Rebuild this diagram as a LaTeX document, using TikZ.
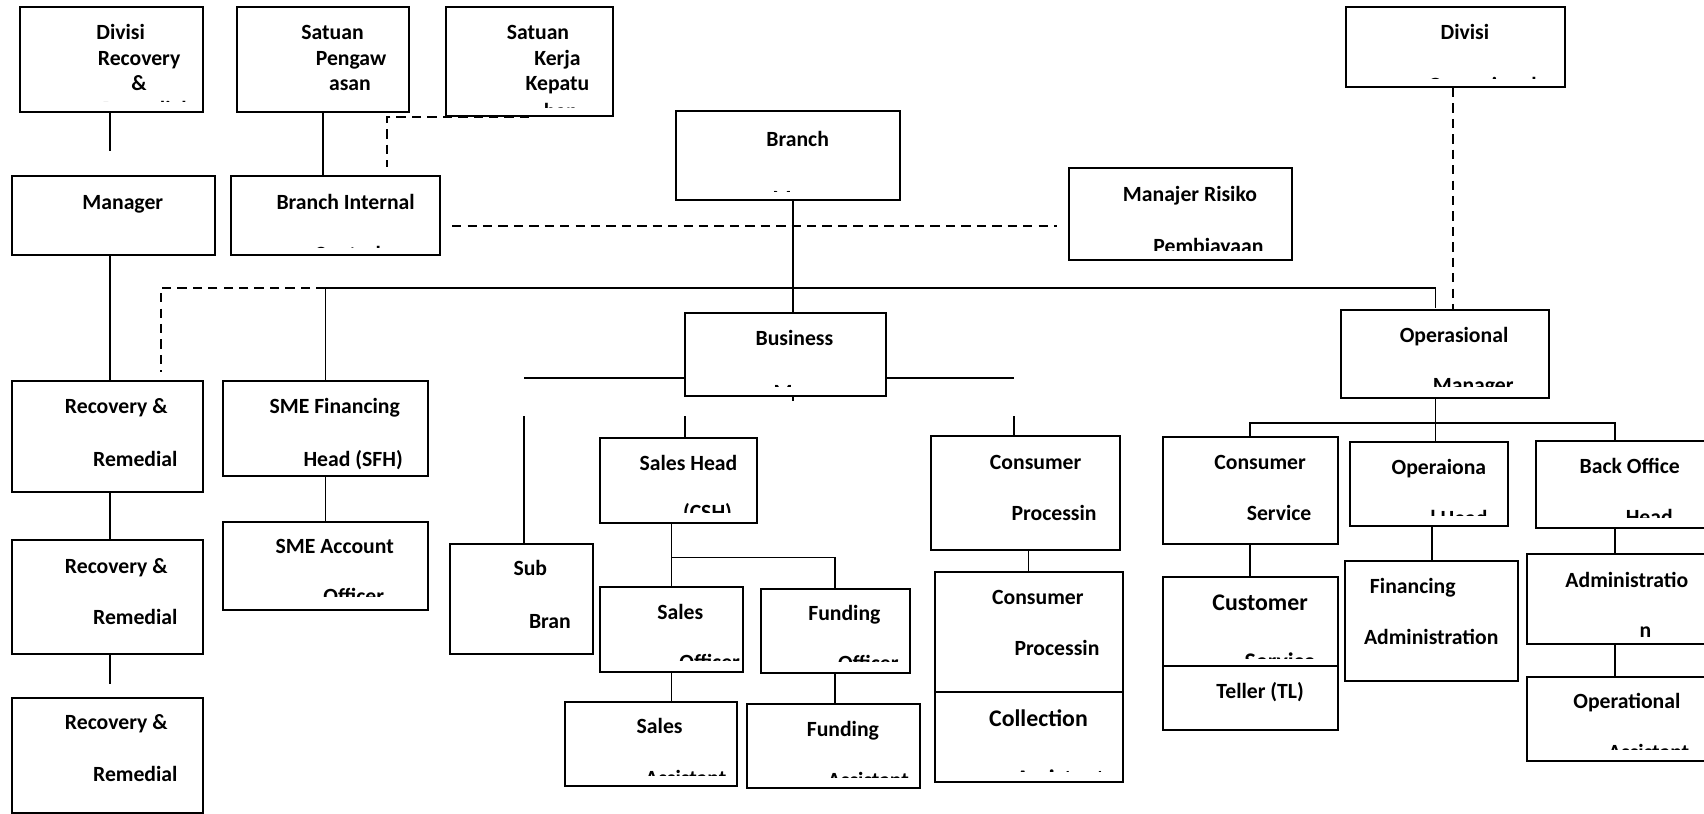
\documentclass[tikz,border=0pt]{standalone}
\usepackage{fontspec}
\setmainfont{Carlito}
\usetikzlibrary{fit}

\tikzset{
	unit/.style={draw, line width=0.46mm, inner sep=0pt, fit={#1}},
	lbl/.style={font=\fontsize{14.2}{17}\selectfont\bfseries, inner sep=0pt, anchor=mid, yshift=-1mm},
	biglbl/.style={lbl, font=\fontsize{15.6}{19}\selectfont\bfseries},
	link/.style={line width=0.4mm},
	dashlink/.style={line width=0.55mm, dash pattern=on 2.15mm off 1.4mm}
}

\begin{document}
\begin{tikzpicture}[x=0.25mm, y=-0.25mm]
			\clip (0,0) rectangle (1568,749);
			\fill[white] (0,0) rectangle (1568,749);

			% top row
			\node[unit={(18,6) (187,103)}] (dr) {};
			\node[lbl] (dr-1) at (111,29) {Divisi};
			\node[lbl] (dr-2) at (128,53) {Recovery};
			\node[lbl] (dr-3) at (128,76) {\&};
			\begin{scope}
				\clip (18,6) rectangle (187,93);
				\node[lbl] (dr-4) at (133,99.5) {Remedial};
			\end{scope}

			\node[unit={(218,6) (376,103)}] (sp) {};
			\node[lbl] (sp-1) at (306,29) {Satuan};
			\node[lbl] (sp-2) at (323,53) {Pengaw};
			\node[lbl] (sp-3) at (322,76) {asan};

			\node[unit={(410,6) (564,107)}] (skk) {};
			\node[lbl] (skk-1) at (495,29) {Satuan};
			\node[lbl] (skk-2) at (513,53) {Kerja};
			\node[lbl] (skk-3) at (513,76) {Kepatu};
			\begin{scope}
				\clip (410,6) rectangle (564,99);
				\node[lbl] (skk-4) at (516,102) {han};
			\end{scope}

			\node[unit={(1239,6) (1440,80)}] (do) {};
			\node[lbl] (do-1) at (1348,29) {Divisi};
			\begin{scope}
				\clip (1239,6) rectangle (1440,72);
				\node[lbl] (do-2) at (1364,78) {Operasional};
			\end{scope}

			\node[unit={(11,162) (198,235)}] (mgr) {};
			\node[lbl] (mgr-1) at (113,185) {Manager};

			\node[unit={(213,162) (405,235)}] (bi) {};
			\node[lbl] (bi-1) at (318,185) {Branch Internal};
			\begin{scope}
				\clip (213,162) rectangle (405,228);
				\node[lbl] (bi-2) at (320,233) {Control};
			\end{scope}

			\node[unit={(622,102) (828,184)}] (br) {};
			\node[lbl] (br-1) at (734,127) {Branch};
			\begin{scope}
				\clip (622,102) rectangle (828,176);
				\node[lbl] (br-2) at (748,182) {Manager};
			\end{scope}

			\node[unit={(984,155) (1189,239)}] (mr) {};
			\node[lbl] (mr-1) at (1095,178) {Manajer Risiko};
			\begin{scope}
				\clip (984,155) rectangle (1189,230.5);
				\node[lbl] (mr-2) at (1112,225.6) {Pembiayaan};
			\end{scope}

			% left columns
			\node[unit={(11,351) (187,453)}] (rr1) {};
			\node[lbl] (rr1-1) at (107,373) {Recovery \&};
			\node[lbl] (rr1-2) at (124.5,421.6) {Remedial};
			\node[unit={(11,497) (187,602)}] (rr2) {};
			\node[lbl] (rr2-1) at (107,520) {Recovery \&};
			\node[lbl] (rr2-2) at (124.5,567) {Remedial};
			\node[unit={(11,642) (187,748)}] (rr3) {};
			\node[lbl] (rr3-1) at (107,664) {Recovery \&};
			\node[lbl] (rr3-2) at (124.5,712) {Remedial};

			\node[unit={(205,351) (394,438)}] (sfh) {};
			\node[lbl] (sfh-1) at (308,373) {SME Financing};
			\node[lbl] (sfh-2) at (325,421.6) {Head (SFH)};
			\node[unit={(205,480) (394,561)}] (sao) {};
			\node[lbl] (sao-1) at (308,502) {SME Account};
			\begin{scope}
				\clip (205,480) rectangle (394,549);
				\node[lbl] (sao-2) at (325.5,547.6) {Officer};
			\end{scope}

			% business side
			\node[unit={(630,288) (815,364)}] (bm) {};
			\node[lbl] (bm-1) at (731,311) {Business};
			\begin{scope}
				\clip (630,288) rectangle (815,356);
				\node[lbl] (bm-2) at (749,360) {Manager};
			\end{scope}

			\node[unit={(414,501) (546,602)}] (sb) {};
			\node[lbl] (sb-1) at (488,522.5) {Sub};
			\node[lbl] (sb-2) at (506,571) {Bran};

			\node[unit={(552,403) (697,481)}] (sh) {};
			\node[lbl] (sh-1) at (633.5,425.7) {Sales Head};
			\begin{scope}
				\clip (552,403) rectangle (697,472);
				\node[lbl] (sh-2) at (651,471) {(CSH)};
			\end{scope}

			\node[unit={(552,540) (684,618)}] (so) {};
			\node[lbl] (so-1) at (626,562.6) {Sales};
			\begin{scope}
				\clip (552,540) rectangle (684,607.5);
				\node[lbl] (so-2) at (653,608.5) {Officer};
			\end{scope}

			\node[unit={(700,542) (837,619)}] (fo) {};
			\node[lbl] (fo-1) at (777,564) {Funding};
			\begin{scope}
				\clip (700,542) rectangle (837,609);
				\node[lbl] (fo-2) at (799,609.5) {Officer};
			\end{scope}

			\node[unit={(520,646) (678,723)}] (sa) {};
			\node[lbl] (sa-1) at (607,668) {Sales};
			\begin{scope}
				\clip (520,646) rectangle (678,713.6);
				\node[lbl] (sa-2) at (631,715.6) {Assistant};
			\end{scope}

			\node[unit={(687,648) (847,725)}] (fa) {};
			\node[lbl] (fa-1) at (775.6,670) {Funding};
			\begin{scope}
				\clip (687,648) rectangle (847,715);
				\node[lbl] (fa-2) at (799,717) {Assistant};
			\end{scope}

			\node[unit={(857,401) (1031,506)}] (cph) {};
			\node[lbl] (cph-1) at (953,424.4) {Consumer};
			\node[lbl] (cph-2) at (970,471.4) {Processin};
			\node[unit={(860,526) (1033,637)}] (cps) {};
			\node[lbl] (cps-1) at (955,548.6) {Consumer};
			\node[lbl] (cps-2) at (972.6,596) {Processin};
			\node[unit={(860,637) (1033,720)}] (col) {};
			\node[biglbl] (col-1) at (955.6,660.7) {Collection};
			\begin{scope}
				\clip (860,637) rectangle (1033,710);
				\node[biglbl] (col-2) at (975.5,716) {Assistant};
			\end{scope}

			% operational side
			\node[unit={(1234,285) (1425,366)}] (om) {};
			\node[lbl] (om-1) at (1338,307.7) {Operasional};
			\begin{scope}
				\clip (1234,285) rectangle (1425,356);
				\node[lbl] (om-2) at (1355.6,354) {Manager};
			\end{scope}

			\node[unit={(1070,402) (1231,501)}] (cs) {};
			\node[lbl] (cs-1) at (1159.5,424.4) {Consumer};
			\node[lbl] (cs-2) at (1177,471.4) {Service};
			\node[unit={(1070,531) (1231,613)}] (cus) {};
			\node[biglbl] (cus-1) at (1159.5,554.7) {Customer};
			\begin{scope}
				\clip (1070,531) rectangle (1231,605.5);
				\node[biglbl] (cus-2) at (1178,608.5) {Service};
			\end{scope}
			\node[unit={(1070,613) (1231,672)}] (tl) {};
			\node[lbl] (tl-1) at (1159.6,635.6) {Teller (TL)};

			\node[unit={(1242,407) (1388,484)}] (oh) {};
			\node[lbl] (oh-1) at (1324,429.5) {Operaiona};
			\begin{scope}
				\clip (1242,407) rectangle (1388,474);
				\node[lbl] (oh-2) at (1342.5,476.4) {l Head};
			\end{scope}
			\node[unit={(1238,516) (1397,627)}] (fad) {};
			\node[lbl] (fad-1) at (1300,538.6) {Financing};
			\node[lbl] (fad-2) at (1317,585.6) {Administration};

			\node[unit={(1413,406) (1580,486)}] (boh) {};
			\node[lbl] (boh-1) at (1499.7,428.6) {Back Office};
			\begin{scope}
				\clip (1413,406) rectangle (1580,476.5);
				\node[lbl] (boh-2) at (1517.6,475.5) {Head};
			\end{scope}
			\node[unit={(1405,510) (1580,593)}] (adm) {};
			\node[lbl] (adm-1) at (1497,533.5) {Administratio};
			\node[lbl] (adm-2) at (1514,579.5) {n};
			\node[unit={(1405,623) (1580,700)}] (oa) {};
			\node[lbl] (oa-1) at (1497,644.7) {Operational};
			\begin{scope}
				\clip (1405,623) rectangle (1580,690);
				\node[lbl] (oa-2) at (1517,691.6) {Assistant};
			\end{scope}

			% junctions and free ends
			\coordinate (colr) at (101,0);
			\coordinate (drend) at (101,139);
			\coordinate (rrend) at (101,629);
			\coordinate (jbi) at (356,154);
			\coordinate (jl) at (416,208);
			\coordinate (jr) at (973,208);
			\coordinate (colbr) at (730,0);
			\coordinate (rail) at (1321,265);
			\coordinate (jom) at (1321,283);
			\coordinate (jrr) at (148,342);
			\coordinate (coldo) at (1337,0);
			\coordinate (jsub) at (482,348);
			\coordinate (jcon) at (933,348);
			\coordinate (jsb) at (482,383);
			\coordinate (jsh) at (630,383);
			\coordinate (jcp) at (933,383);
			\coordinate (jsales) at (618,513);
			\coordinate (jops) at (1321,389);
			\coordinate (colb) at (1486,0);

			% connectors
			\draw[link] (dr.south -| colr) -- (drend);
			\draw[link] (sp.south) -- (sp.south |- bi.north);
			\draw[dashlink] (skk.south) -| (jbi);
			\draw[dashlink] (jl) -- (jr);
			\draw[link] (br.south -| colbr) -- (bm.north -| colbr);
			\draw[link] (bm.south -| colbr) -- ++(0,4);
			\draw[link] (sfh.north) |- (rail) -- (jom);
			\draw[dashlink] (sfh.north |- rail) -| (jrr);
			\draw[dashlink] (do.south -| coldo) -- (om.north -| coldo);
			\draw[link] (mgr.south -| colr) -- (rr1.north -| colr);
			\draw[link] (rr1.south -| colr) -- (rr2.north -| colr);
			\draw[link] (rr2.south -| colr) -- (rrend);
			\draw[link] (sfh.south) -- (sao.north);
			\draw[link] (bm.west |- jsub) -- (jsub);
			\draw[link] (bm.east |- jcon) -- (jcon);
			\draw[link] (jsb) -- (jsb |- sb.north);
			\draw[link] (jsh) -- (jsh |- sh.north);
			\draw[link] (jcp) -- (jcp |- cph.north);
			\draw[link] (sh.south -| jsales) -- (so.north -| jsales);
			\draw[link] (jsales) -| (fo.north);
			\draw[link] (so.south) -- (so.south |- sa.north);
			\draw[link] (fo.south) -- (fo.south |- fa.north);
			\draw[link] (cps.north |- cph.south) -- (cps.north);
			\draw[link] (om.south -| jops) -- (oh.north -| jops);
			\draw[link] (cs.north) |- (jops) -| (boh.north -| colb);
			\draw[link] (cs.south) -- (cus.north);
			\draw[link] (fad.north |- oh.south) -- (fad.north);
			\draw[link] (boh.south -| colb) -- (adm.north -| colb);
			\draw[link] (adm.south -| colb) -- (oa.north -| colb);
		\end{tikzpicture}
\end{document}
